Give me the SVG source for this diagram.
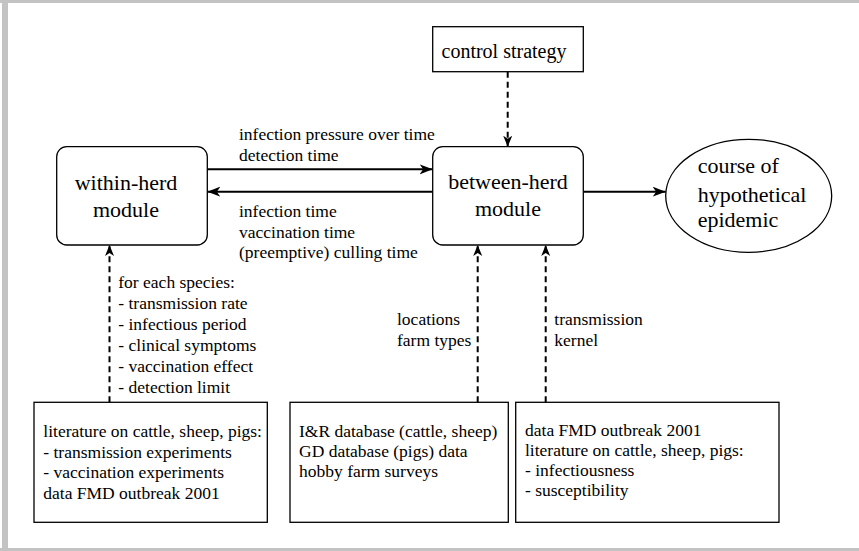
<svg xmlns="http://www.w3.org/2000/svg" width="859" height="551" viewBox="0 0 859 551">
<style>
  .frame { fill: #c3c3c3; }
  .box { fill: #ffffff; stroke: #000000; stroke-width: 1.3; }
  text { font-family: 'Liberation Serif', serif; fill: #000000; }
  .big { font-size: 22px; }
  .mid { font-size: 20px; }
  .sm { font-size: 17.5px; }
  .solid { fill: none; stroke: #000000; stroke-width: 2; }
  .dash { fill: none; stroke: #000000; stroke-width: 2; stroke-dasharray: 6 4; }
</style>
<defs>
  <marker id="arr" markerUnits="userSpaceOnUse" markerWidth="14" markerHeight="11" refX="13" refY="5" orient="auto">
    <path d="M0,0 L13,5 L0,10 L3.5,5 Z" fill="#000000"/>
  </marker>
  <marker id="arrd" markerUnits="userSpaceOnUse" markerWidth="12" markerHeight="10" refX="11" refY="4.5" orient="auto">
    <path d="M0,0 L11,4.5 L0,9 L3,4.5 Z" fill="#000000"/>
  </marker>
</defs>
<rect x="0" y="0" width="859" height="551" fill="#ffffff"/>
<rect class="frame" x="2" y="0" width="6" height="551"/>
<rect class="frame" x="0" y="0" width="859" height="3"/>
<rect class="frame" x="0" y="548" width="859" height="3"/>

<g id="connectors" font-family="Liberation Serif, serif">
  <line class="solid" x1="207.3" y1="169.3" x2="432.7" y2="169.3" marker-end="url(#arr)"/>
  <line class="solid" x1="432.7" y1="191.7" x2="207.3" y2="191.7" marker-end="url(#arr)"/>
  <line class="solid" x1="583.3" y1="191.7" x2="665.7" y2="191.7" marker-end="url(#arr)"/>
  <line class="dash" x1="507.7" y1="71.7" x2="507.7" y2="146.7" marker-end="url(#arrd)"/>
  <line class="dash" x1="109.5" y1="402.3" x2="109.5" y2="245" marker-end="url(#arrd)"/>
  <line class="dash" x1="477.7" y1="402.3" x2="477.7" y2="245" marker-end="url(#arrd)"/>
  <line class="dash" x1="545.7" y1="402.3" x2="545.7" y2="245" marker-end="url(#arrd)"/>
  <text class="sm" x="239" y="140">infection pressure over time</text>
  <text class="sm" x="239" y="161">detection time</text>
  <text class="sm" x="239" y="216.7">infection time</text>
  <text class="sm" x="239" y="237.7">vaccination time</text>
  <text class="sm" x="239" y="258.3">(preemptive) culling time</text>
  <text class="sm" x="118.3" y="288.3">for each species:</text>
  <text class="sm" x="118.3" y="309.3">- transmission rate</text>
  <text class="sm" x="118.3" y="330.3">- infectious period</text>
  <text class="sm" x="118.3" y="351.3">- clinical symptoms</text>
  <text class="sm" x="118.3" y="372.3">- vaccination effect</text>
  <text class="sm" x="118.3" y="393.3">- detection limit</text>
  <text class="sm" x="397" y="325.3">locations</text>
  <text class="sm" x="397" y="346">farm types</text>
  <text class="sm" x="554.3" y="325.3">transmission</text>
  <text class="sm" x="554.3" y="346">kernel</text>
</g>

<g id="control-strategy">
  <rect class="box" x="432.7" y="26.7" width="150.6" height="45"/>
  <text class="mid" x="504" y="58.3" text-anchor="middle">control strategy</text>
</g>

<g id="within-herd">
  <rect class="box" x="56.7" y="146.7" width="150.6" height="98.3" rx="10" ry="10"/>
  <text class="big" x="126" y="190" text-anchor="middle">within-herd</text>
  <text class="big" x="126" y="217" text-anchor="middle">module</text>
</g>

<g id="between-herd">
  <rect class="box" x="432.7" y="146.7" width="150.6" height="98.3" rx="10" ry="10"/>
  <text class="big" x="508" y="189.3" text-anchor="middle">between-herd</text>
  <text class="big" x="508" y="216" text-anchor="middle">module</text>
</g>

<g id="course">
  <ellipse class="box" cx="748.7" cy="195.8" rx="83" ry="56.5"/>
  <text class="big" x="697.7" y="173.3">course of</text>
  <text class="big" x="697.7" y="201.7">hypothetical</text>
  <text class="big" x="697.7" y="227.3">epidemic</text>
</g>

<g id="literature">
  <rect class="box" x="34" y="402.3" width="233.3" height="120"/>
  <text class="sm" x="43.3" y="436.7">literature on cattle, sheep, pigs:</text>
  <text class="sm" x="43.3" y="457.7">- transmission experiments</text>
  <text class="sm" x="43.3" y="478.3">- vaccination experiments</text>
  <text class="sm" x="43.3" y="498.7">data FMD outbreak 2001</text>
</g>

<g id="databases">
  <rect class="box" x="290" y="402.3" width="218.3" height="120"/>
  <text class="sm" x="299" y="436.7">I&amp;R database (cattle, sheep)</text>
  <text class="sm" x="299" y="456.7">GD database (pigs) data</text>
  <text class="sm" x="299" y="476.7">hobby farm surveys</text>
</g>

<g id="outbreak-data">
  <rect class="box" x="515.7" y="402.3" width="263.3" height="120"/>
  <text class="sm" x="525" y="435.7">data FMD outbreak 2001</text>
  <text class="sm" x="525" y="455.7">literature on cattle, sheep, pigs:</text>
  <text class="sm" x="525" y="475.7">- infectiousness</text>
  <text class="sm" x="525" y="495.7">- susceptibility</text>
</g>
</svg>
